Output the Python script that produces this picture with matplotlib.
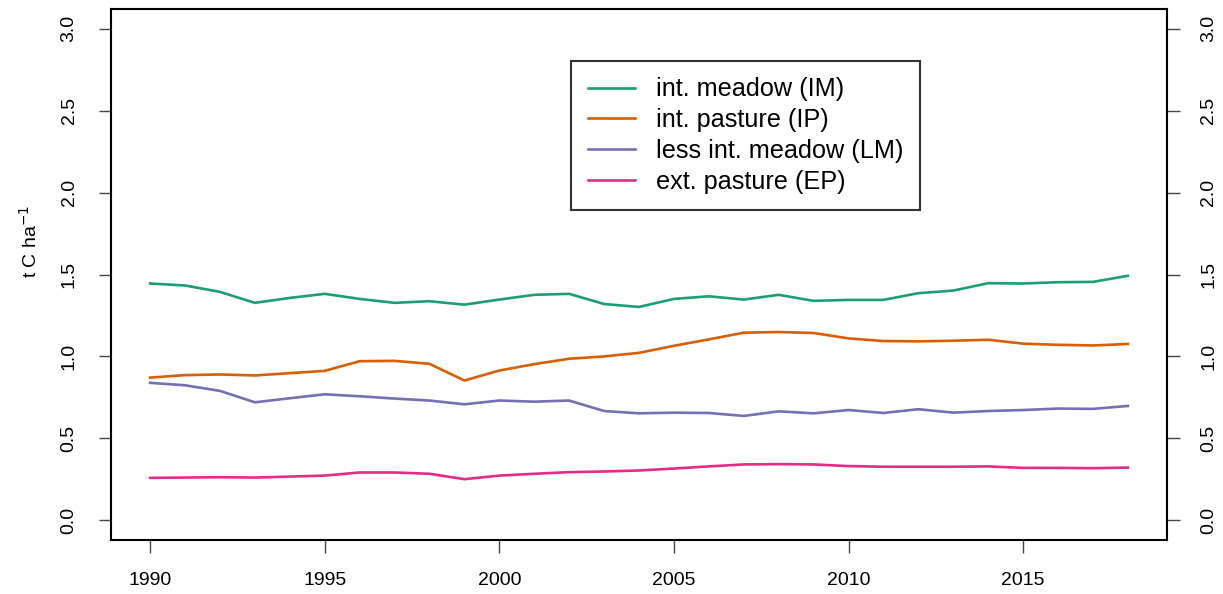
#!/usr/bin/env python3
import matplotlib
matplotlib.use("Agg")
import matplotlib.pyplot as plt

plt.rcParams["font.family"] = ["Liberation Sans", "DejaVu Sans"]

years = list(range(1990, 2019))

im = [1.445, 1.433, 1.394, 1.327, 1.357, 1.382, 1.351, 1.327, 1.337, 1.316,
      1.347, 1.376, 1.382, 1.320, 1.302, 1.351, 1.367, 1.347, 1.376, 1.339,
      1.345, 1.345, 1.386, 1.402, 1.447, 1.445, 1.453, 1.455, 1.492]
ip = [0.871, 0.886, 0.890, 0.884, 0.898, 0.912, 0.971, 0.973, 0.955, 0.853,
      0.914, 0.953, 0.986, 1.000, 1.022, 1.065, 1.104, 1.145, 1.149, 1.143,
      1.110, 1.094, 1.092, 1.096, 1.102, 1.078, 1.071, 1.067, 1.076]
lm = [0.839, 0.824, 0.790, 0.720, 0.745, 0.769, 0.757, 0.743, 0.731, 0.708,
      0.731, 0.724, 0.731, 0.667, 0.653, 0.657, 0.655, 0.637, 0.665, 0.653,
      0.673, 0.655, 0.678, 0.657, 0.667, 0.673, 0.682, 0.680, 0.698]
ep = [0.259, 0.261, 0.263, 0.261, 0.267, 0.273, 0.292, 0.292, 0.284, 0.251,
      0.273, 0.284, 0.294, 0.298, 0.304, 0.316, 0.329, 0.341, 0.343, 0.341,
      0.331, 0.327, 0.327, 0.327, 0.329, 0.320, 0.320, 0.318, 0.322]

series = {
    "int. meadow (IM)": [im, "#1B9E77"],
    "int. pasture (IP)": [ip, "#D95F02"],
    "less int. meadow (LM)": [lm, "#7570B3"],
    "ext. pasture (EP)": [ep, "#E7298A"],
}

xticks = [1990, 1995, 2000, 2005, 2010, 2015]
yticks = [0.0, 0.5, 1.0, 1.5, 2.0, 2.5, 3.0]

fig = plt.figure(figsize=(12.23, 5.94), dpi=100)
ax = fig.add_axes([111 / 1223, 54 / 594, (1167 - 111) / 1223, (540 - 9) / 594])

for name in series:
    vals, col = series[name]
    ax.plot(years, vals, color=col, lw=1.9, label=name)

ax.set_xlim(1988.88, 2019.12)
ax.set_ylim(-0.12, 3.12)
ax.set_xticks(xticks)
ax.set_yticks(yticks)
ax.set_yticklabels(["%.1f" % v for v in yticks])

for s in ax.spines.values():
    s.set_linewidth(1.5)
    s.set_color("black")

ax.tick_params(axis="both", length=9, width=1, color="#444444", labelsize=14)
ax.tick_params(axis="x", pad=14)
ax.tick_params(axis="y", right=True, labelright=True, pad=15, labelrotation=90)
for t in ax.yaxis.get_major_ticks():
    t.label1.set_va("center")
    t.label2.set_va("center")

fig.text(30 / 1223, 1 - 241 / 594, r"t C ha$^{-1}$", rotation=90,
         ha="center", va="center", fontsize=14)

leg = ax.legend(loc="upper left", bbox_to_anchor=(0.436, 0.902), fontsize=18.2,
                frameon=True, fancybox=False, handlelength=1.85,
                handletextpad=0.85, labelspacing=0.27, borderpad=0.65,
                borderaxespad=0)
leg.get_frame().set_edgecolor("black")
leg.get_frame().set_linewidth(1.5)

fig.savefig("out.png", dpi=100)
